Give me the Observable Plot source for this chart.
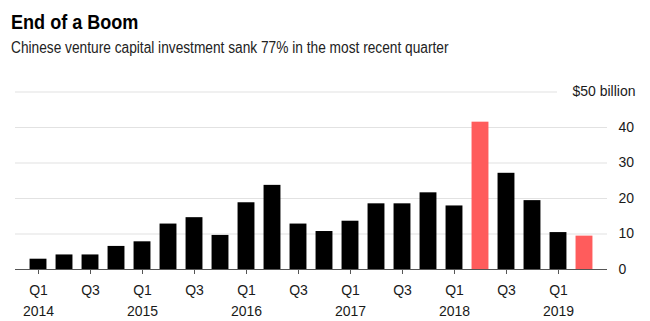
<!DOCTYPE html>
<html>
<head>
<meta charset="utf-8">
<script src="https://cdn.jsdelivr.net/npm/d3@7"></script>
<script src="https://cdn.jsdelivr.net/npm/@observablehq/plot@0.6"></script>
<style>
  html, body { margin: 0; padding: 0; background: #fff; }
  body { width: 650px; height: 321px; position: relative; overflow: hidden; font-family: "Liberation Sans", Arial, sans-serif; }
  #title { position: absolute; left: 11px; top: 10px; font-size: 21px; font-weight: bold; color: #000; white-space: nowrap; transform: scaleX(0.86); transform-origin: 0 0; }
  #subtitle { position: absolute; left: 11px; top: 39px; font-size: 16px; color: #222; white-space: nowrap; transform: scaleX(0.857); transform-origin: 0 0; }
  #chart { position: absolute; left: 0; top: 60px; }
</style>
</head>
<body>
<div id="title">End of a Boom</div>
<div id="subtitle">Chinese venture capital investment sank 77% in the most recent quarter</div>
<div id="chart"></div>
<script>
// Quarters Q1 2014 – Q2 2019
const years = ["2014","2014","2014","2014","2015","2015","2015","2015","2016","2016","2016","2016","2017","2017","2017","2017","2018","2018","2018","2018","2019","2019"];
const quarters = ["Q1","Q2","Q3","Q4","Q1","Q2","Q3","Q4","Q1","Q2","Q3","Q4","Q1","Q2","Q3","Q4","Q1","Q2","Q3","Q4","Q1","Q2"];
// Venture capital investment, $ billion
const values = [2.9, 4.1, 4.1, 6.5, 7.8, 12.8, 14.6, 9.6, 18.8, 23.7, 12.8, 10.7, 13.6, 18.5, 18.5, 21.6, 17.9, 41.5, 27.1, 19.4, 10.4, 9.4];
const highlighted = ["2018 Q2", "2019 Q2"];
const yTicks = [0, 10, 20, 30, 40];
const topTick = 50;
const topLabel = "$50 billion";

const data = values.map((v, i) => ({
  period: `${years[i]} ${quarters[i]}`,
  year: years[i],
  quarter: quarters[i],
  value: v
}));
const periods = data.map(d => d.period);
const q13 = data.filter(d => d.quarter === "Q1" || d.quarter === "Q3").map(d => d.period);
const q1 = data.filter(d => d.quarter === "Q1").map(d => d.period);

const chart = Plot.plot({
  width: 650,
  height: 261,
  marginLeft: 15,
  marginRight: 43,
  marginTop: 31.5,
  marginBottom: 52,
  style: { fontFamily: '"Liberation Sans", Arial, sans-serif', fontSize: "14px", color: "#1a1a1a", background: "white" },
  x: { domain: periods, paddingInner: 0.35, paddingOuter: 0.56, align: 0.5, round: false, axis: null },
  y: { domain: [0, 50], axis: null },
  marks: [
    Plot.ruleY(yTicks, { stroke: "#e2e2e2", strokeWidth: 1.2 }),
    Plot.ruleY([topTick], { stroke: "#e2e2e2", strokeWidth: 1.2, insetRight: 50 }),
    Plot.barY(data, {
      x: "period",
      y: "value",
      fill: d => highlighted.includes(d.period) ? "#ff5c5c" : "#000"
    }),
    Plot.ruleY([0], { stroke: "#555", strokeWidth: 1.2 }),
    Plot.axisY({ anchor: "right", ticks: yTicks, tickSize: 0, tickPadding: 11, fontSize: 14, label: null }),
    Plot.text([topTick], { y: d => d, text: () => topLabel, frameAnchor: "right", textAnchor: "end", dx: 28, fontSize: 14 }),
    Plot.axisX({ ticks: q13, tickFormat: d => d.split(" ")[1], tickSize: 5, tickPadding: 11, stroke: "#555", fontSize: 14, label: null }),
    Plot.axisX({ ticks: q1, tickFormat: d => d.split(" ")[0], tickSize: 0, tickPadding: 36.5, fontSize: 14, label: null })
  ]
});
document.getElementById("chart").appendChild(chart);
</script>
</body>
</html>
